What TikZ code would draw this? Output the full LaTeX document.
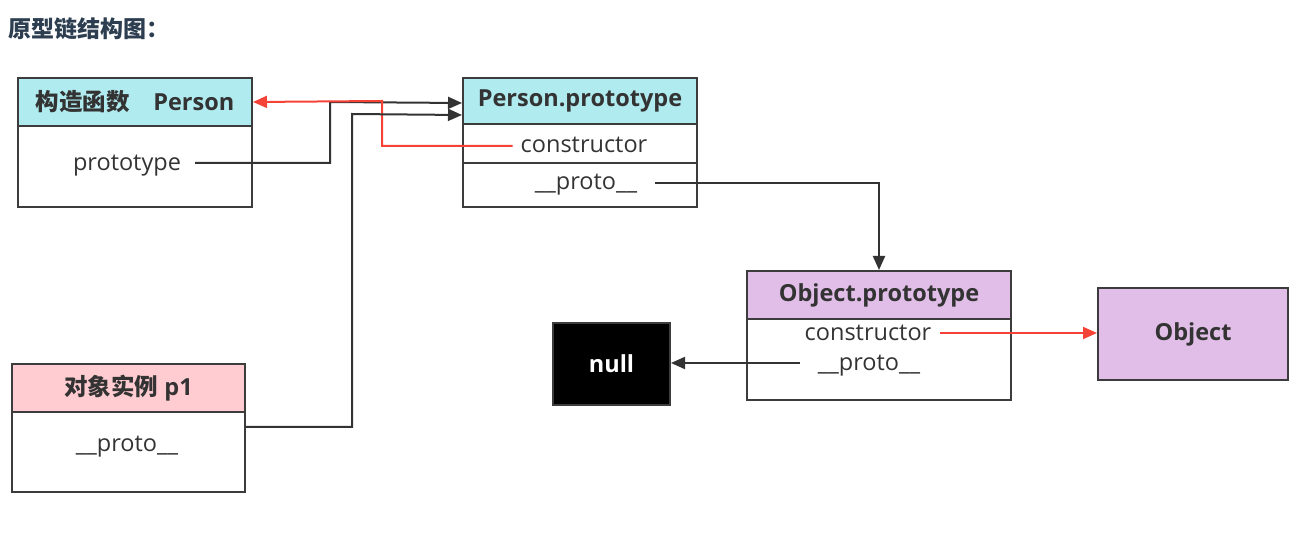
\documentclass[tikz,border=0pt]{standalone}
\usepackage{fontspec}
\setmainfont{Open Sans}
\newfontfamily\cjk{Noto Sans CJK SC}
\usetikzlibrary{arrows.meta}
\definecolor{ink}{HTML}{333333}
\definecolor{titleink}{HTML}{2C3E50}
\definecolor{edge}{HTML}{3C3C3C}
\definecolor{cyanh}{HTML}{B0EBF0}
\definecolor{pinkh}{HTML}{FFCCD1}
\definecolor{violeth}{HTML}{E1BEE7}
\definecolor{redl}{HTML}{F44336}
\begin{document}
\begin{tikzpicture}[x=1pt,y=-1pt,
  box/.style={draw=edge, line width=2pt, rectangle, anchor=north west, inner sep=0pt, text=ink, font=\fontsize{23.5}{28}\selectfont\bfseries},
  field/.style={anchor=base, inner xsep=8pt, inner ysep=0pt, text=ink, font=\fontsize{23.5}{28}\selectfont},
  conn/.style={draw=ink, line width=2pt, -{Triangle[length=14pt,width=12pt]}},
  rconn/.style={draw=redl, line width=2pt, -{Triangle[length=14pt,width=12pt]}}]
\useasboundingbox (0,0) rectangle (1307,534);
\node[anchor=west, inner sep=0pt, text=titleink, font=\fontsize{23}{28}\selectfont\bfseries\cjk] (title) at (8,29) {原型链结构图：};
% Person constructor
\node[box, fill=cyanh, minimum width=234pt, minimum height=48pt] (pc-h) at (17,77) {{\cjk 构造函数}\quad Person};
\node[box, fill=white, minimum width=234pt, minimum height=81pt] (pc-b) at (17,125) {};
\node[field] (pc-f) at (127,171) {prototype};
% Person.prototype
\node[box, fill=cyanh, minimum width=234pt, minimum height=46pt] (pp-h) at (462,77) {Person.prototype};
\node[box, fill=white, minimum width=234pt, minimum height=39pt] (pp-c) at (462,123) {};
\node[box, fill=white, minimum width=234pt, minimum height=44pt] (pp-p) at (462,162) {};
\node[field] (pp-cf) at (584,153) {constructor};
\node[field] (pp-pf) at (586,190) {\_\_proto\_\_};
% p1
\node[box, fill=pinkh, minimum width=233pt, minimum height=48pt] (p1-h) at (11,363) {{\cjk 对象实例} p1};
\node[box, fill=white, minimum width=233pt, minimum height=80pt] (p1-b) at (11,411) {};
\node[field] (p1-f) at (127,452) {\_\_proto\_\_};
% Object.prototype
\node[box, fill=violeth, minimum width=264pt, minimum height=48pt] (op-h) at (746,270) {Object.prototype};
\node[box, fill=white, minimum width=264pt, minimum height=81pt] (op-b) at (746,318) {};
\node[field] (op-cf) at (868,341) {constructor};
\node[field] (op-pf) at (869,371) {\_\_proto\_\_};
% null and Object
\node[box, fill=black, text=white, minimum width=117pt, minimum height=82pt] (null) at (552,322) {null};
\node[box, fill=violeth, minimum width=190pt, minimum height=92pt] (obj) at (1097,287) {Object};
% connectors
\draw[conn] ([xshift=6pt,yshift=8pt]pc-f.base east) -| (330,102) -- ([yshift=-2pt]pp-h.west);
\draw[rconn] ([yshift=7pt]pp-cf.base west) -| (382,101) -- (pc-h.east);
\draw[conn] ([yshift=-16pt]p1-b.north east) -| (352,114) -- ([yshift=-14pt]pp-h.west);
\draw[conn] ([xshift=10pt,yshift=7pt]pp-pf.base east) -| (op-h.north);
\draw[rconn] ([yshift=8pt]op-cf.base east) -- ([yshift=8pt]op-cf.base east -| obj.west);
\draw[conn] ([xshift=-10pt,yshift=8pt]op-pf.base west) -- ([yshift=8pt]op-pf.base west -| null.east);
\end{tikzpicture}
\end{document}
